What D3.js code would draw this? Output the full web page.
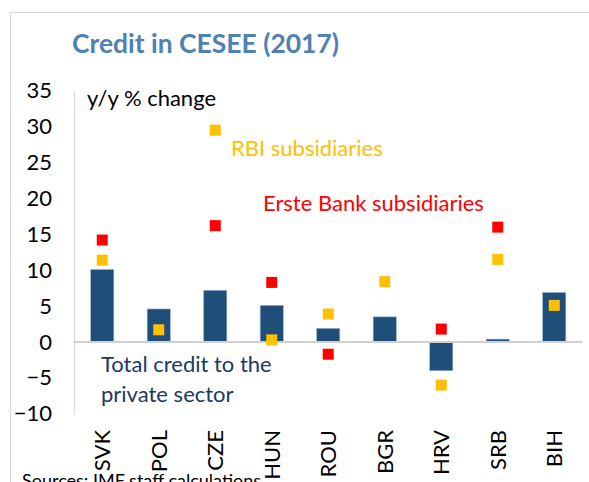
<!DOCTYPE html>
<html>
<head>
<meta charset="utf-8">
<script src="https://cdn.jsdelivr.net/npm/d3@7"></script>
<style>
  body { margin: 0; background: #fff; }
  text { font-family: Lato, "Open Sans", sans-serif; }
</style>
</head>
<body>
<div id="chart"></div>
<script>
// data
var countries = ["SVK", "POL", "CZE", "HUN", "ROU", "BGR", "HRV", "SRB", "BIH"];
var totalCredit = [10.1, 4.6, 7.2, 5.1, 1.9, 3.5, -4.0, 0.4, 6.9];
var rbiSubs = [11.4, 1.7, 29.5, 0.3, 3.9, 8.4, -6.0, 11.5, 5.1];
var ersteSubs = [14.2, null, 16.2, 8.3, -1.7, null, 1.8, 16.0, null];
var yTicks = [35, 30, 25, 20, 15, 10, 5, 0, -5, -10];

var svg = d3.select("#chart").append("svg")
            .attr("width", 589)
            .attr("height", 482);

// outer frame (only top and left edges are visible)
svg.append("rect")
   .attr("x", 10.5).attr("y", 12.5)
   .attr("width", 700).attr("height", 600)
   .attr("fill", "none")
   .attr("stroke", "#d9d9d9")
   .attr("stroke-width", 1);

var x = d3.scaleBand()
          .domain(countries)
          .range([74, 582.5])
          .paddingInner(0.59)
          .paddingOuter(0.295);

var y = d3.scaleLinear()
          .domain([-10, 35])
          .range([413.8, 90.7]);

// title
svg.append("text")
   .attr("x", 72).attr("y", 53)
   .attr("fill", "#4f81b5")
   .attr("textLength", 267)
   .attr("lengthAdjust", "spacingAndGlyphs")
   .style("font-size", "27.5px")
   .style("font-weight", "bold")
   .text("Credit in CESEE (2017)");

// y axis
var yAxis = svg.append("g")
               .attr("transform", "translate(74,0)")
               .call(d3.axisLeft(y).tickValues(yTicks).tickSize(0).tickPadding(22));
yAxis.select(".domain").attr("stroke", "#d9d9d9").attr("stroke-width", 1.2);
yAxis.selectAll("text")
     .style("font-size", "22px")
     .style("font-family", "Lato, sans-serif")
     .attr("fill", "#000");

// bars
svg.selectAll(".bar")
   .data(totalCredit)
   .enter()
   .append("rect")
   .attr("class", "bar")
   .attr("x", function(d, i) { return x(countries[i]); })
   .attr("width", x.bandwidth())
   .attr("y", function(d) { return y(Math.max(0, d)); })
   .attr("height", function(d) { return Math.abs(y(d) - y(0)); })
   .attr("fill", "#1f4e79")
   .attr("stroke", "#9db4d6")
   .attr("stroke-width", 0.6);

// zero line
svg.append("line")
   .attr("x1", 74).attr("x2", 582.5)
   .attr("y1", y(0)).attr("y2", y(0))
   .attr("stroke", "#d0d0d0")
   .attr("stroke-width", 2);

// markers
var sq = 11;
svg.selectAll(".rbi")
   .data(rbiSubs)
   .enter()
   .append("rect")
   .attr("class", "rbi")
   .attr("x", function(d, i) { return x(countries[i]) + x.bandwidth() / 2 - sq / 2; })
   .attr("y", function(d) { return y(d) - sq / 2; })
   .attr("width", sq).attr("height", sq)
   .attr("fill", "#ffc000");

svg.selectAll(".erste")
   .data(ersteSubs.map(function(d, i) { return {c: countries[i], v: d}; })
                  .filter(function(d) { return d.v !== null; }))
   .enter()
   .append("rect")
   .attr("class", "erste")
   .attr("x", function(d) { return x(d.c) + x.bandwidth() / 2 - sq / 2; })
   .attr("y", function(d) { return y(d.v) - sq / 2; })
   .attr("width", sq).attr("height", sq)
   .attr("fill", "#ff0000");

// category labels, rotated
svg.selectAll(".cat")
   .data(countries)
   .enter()
   .append("text")
   .attr("class", "cat")
   .attr("transform", function(d) {
      return "translate(" + (x(d) + x.bandwidth() / 2 + 8) + ",430) rotate(-90)";
   })
   .attr("text-anchor", "end")
   .style("font-size", "22px")
   .attr("fill", "#000")
   .text(function(d) { return d; });

// annotations
svg.append("text")
   .attr("x", 87).attr("y", 106)
   .style("font-size", "22px")
   .attr("fill", "#000")
   .text("y/y % change");

svg.append("text")
   .attr("x", 231).attr("y", 156)
   .style("font-size", "22px")
   .attr("fill", "#ffc000")
   .text("RBI subsidiaries");

svg.append("text")
   .attr("x", 263).attr("y", 211)
   .style("font-size", "22px")
   .attr("fill", "#ff0000")
   .text("Erste Bank subsidiaries");

svg.append("text")
   .attr("x", 101).attr("y", 372)
   .style("font-size", "22px")
   .attr("fill", "#203864")
   .text("Total credit to the");

svg.append("text")
   .attr("x", 101).attr("y", 402)
   .style("font-size", "22px")
   .attr("fill", "#203864")
   .text("private sector");

svg.append("text")
   .attr("x", 22).attr("y", 487)
   .style("font-size", "18px")
   .attr("fill", "#000")
   .text("Sources: IMF staff calculations");
</script>
</body>
</html>
